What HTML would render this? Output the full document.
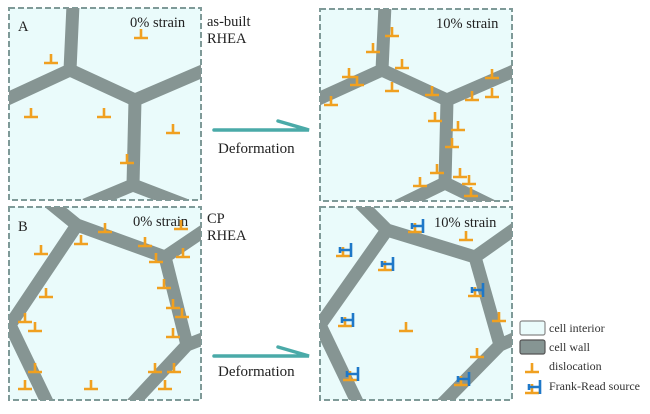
<!DOCTYPE html>
<html><head><meta charset="utf-8"><style>
html,body{margin:0;padding:0;background:#fff;}
svg{display:block;font-family:"Liberation Serif",serif;}
</style></head><body>
<svg width="650" height="414" viewBox="0 0 650 414" xmlns="http://www.w3.org/2000/svg">
<defs>
<g id="d"><path d="M-7 0H7M0 0V-9" stroke="#f0a020" stroke-width="2.6" fill="none"/></g>
<g id="f"><path d="M-7 0H7M0 0V-9" stroke="#f0a020" stroke-width="2.6" fill="none"/><path d="M-3 -6H8M8 -13V1M-3 -9V-3" stroke="#1f78c8" stroke-width="2.6" fill="none"/></g>
<clipPath id="cA"><rect x="9" y="8" width="192" height="192"/></clipPath>
<clipPath id="cA2"><rect x="320" y="9" width="192" height="192"/></clipPath>
<clipPath id="cB"><rect x="9" y="207" width="192" height="193"/></clipPath>
<clipPath id="cB2"><rect x="320" y="207" width="192" height="193"/></clipPath>
</defs>
<g fill="#eafbfb" stroke="#7f9a98" stroke-width="2" stroke-dasharray="6 3">
<rect x="9" y="8" width="192" height="192"/>
<rect x="320" y="9" width="192" height="192"/>
<rect x="9" y="207" width="192" height="193"/>
<rect x="320" y="207" width="192" height="193"/>
</g>
<g stroke="#869593" stroke-width="13" fill="none" stroke-linejoin="round">
<g clip-path="url(#cA)"><path d="M73 5L70 70L5 100M70 70L135 100L205 70M135 100L133 185L85 205M133 185L185 205"/></g>
<g clip-path="url(#cA2)"><path d="M385 5L382 70L316 100M382 70L447 100L516 70M447 100L445 183L398 206M445 183L492 206"/></g>
<g clip-path="url(#cB)"><path d="M50 203L77 225L165 257L205 230M77 225L10 325L48 404M165 257L187 345L205 338M187 345L132 404"/></g>
<g clip-path="url(#cB2)"><path d="M360 203L387 230L475 257L516 228M387 230L320 325L358 404M475 257L500 345L516 338M500 345L442 404"/></g>
</g>
<g font-size="14.5" fill="#222">
<text x="18" y="31">A</text><text x="130" y="27">0% strain</text>
<text x="207" y="26">as-built</text><text x="207" y="43">RHEA</text>
<text x="436" y="28">10% strain</text>
<text x="18" y="231">B</text><text x="133" y="226">0% strain</text>
<text x="207" y="223">CP</text><text x="207" y="240">RHEA</text>
<text x="434" y="227">10% strain</text>
</g>
<g font-size="15" fill="#222">
<text x="218" y="153">Deformation</text>
<text x="218" y="376">Deformation</text>
</g>
<g stroke="#4aaaa8" stroke-width="3.5" fill="none" stroke-linecap="round">
<path d="M214 130H309L278 121"/>
<path d="M214 356H309L278 347"/>
</g>
<g>
<use href="#d" x="141" y="38"/><use href="#d" x="51" y="63"/><use href="#d" x="31" y="117"/><use href="#d" x="104" y="117"/><use href="#d" x="173" y="133"/><use href="#d" x="127" y="163"/>
<use href="#d" x="392" y="36"/><use href="#d" x="373" y="52"/><use href="#d" x="402" y="68"/><use href="#d" x="349" y="77"/><use href="#d" x="357" y="85"/><use href="#d" x="392" y="91"/><use href="#d" x="331" y="105"/><use href="#d" x="432" y="95"/><use href="#d" x="492" y="78"/><use href="#d" x="472" y="100"/><use href="#d" x="492" y="97"/><use href="#d" x="435" y="121"/><use href="#d" x="458" y="130"/><use href="#d" x="452" y="147"/><use href="#d" x="437" y="173"/><use href="#d" x="460" y="177"/><use href="#d" x="469" y="184"/><use href="#d" x="420" y="186"/><use href="#d" x="471" y="196"/>
<use href="#d" x="41" y="254"/><use href="#d" x="81" y="244"/><use href="#d" x="105" y="232"/><use href="#d" x="145" y="246"/><use href="#d" x="181" y="229"/><use href="#d" x="156" y="262"/><use href="#d" x="183" y="257"/><use href="#d" x="164" y="288"/><use href="#d" x="46" y="297"/><use href="#d" x="173" y="308"/><use href="#d" x="182" y="317"/><use href="#d" x="25" y="322"/><use href="#d" x="35" y="331"/><use href="#d" x="173" y="337"/><use href="#d" x="35" y="372"/><use href="#d" x="155" y="372"/><use href="#d" x="174" y="372"/><use href="#d" x="25" y="389"/><use href="#d" x="91" y="389"/><use href="#d" x="165" y="389"/>
<use href="#d" x="466" y="240"/><use href="#d" x="499" y="321"/><use href="#d" x="406" y="331"/><use href="#d" x="477" y="357"/>
<use href="#f" x="415" y="232"/><use href="#f" x="343" y="256"/><use href="#f" x="385" y="270"/><use href="#f" x="475" y="296"/><use href="#f" x="345" y="326"/><use href="#f" x="350" y="380"/><use href="#f" x="461" y="385"/>
</g>
<rect x="520" y="321" width="25" height="14" rx="2" fill="#eafbfb" stroke="#888" stroke-width="1.2"/>
<rect x="520" y="340" width="25" height="14" rx="2" fill="#869593" stroke="#555" stroke-width="1.2"/>
<use href="#d" x="532" y="372"/>
<use href="#f" x="532" y="393"/>
<g font-size="12" fill="#333">
<text x="549" y="332">cell interior</text>
<text x="549" y="351">cell wall</text>
<text x="549" y="370">dislocation</text>
<text x="549" y="390">Frank-Read source</text>
</g>
</svg>
</body></html>
